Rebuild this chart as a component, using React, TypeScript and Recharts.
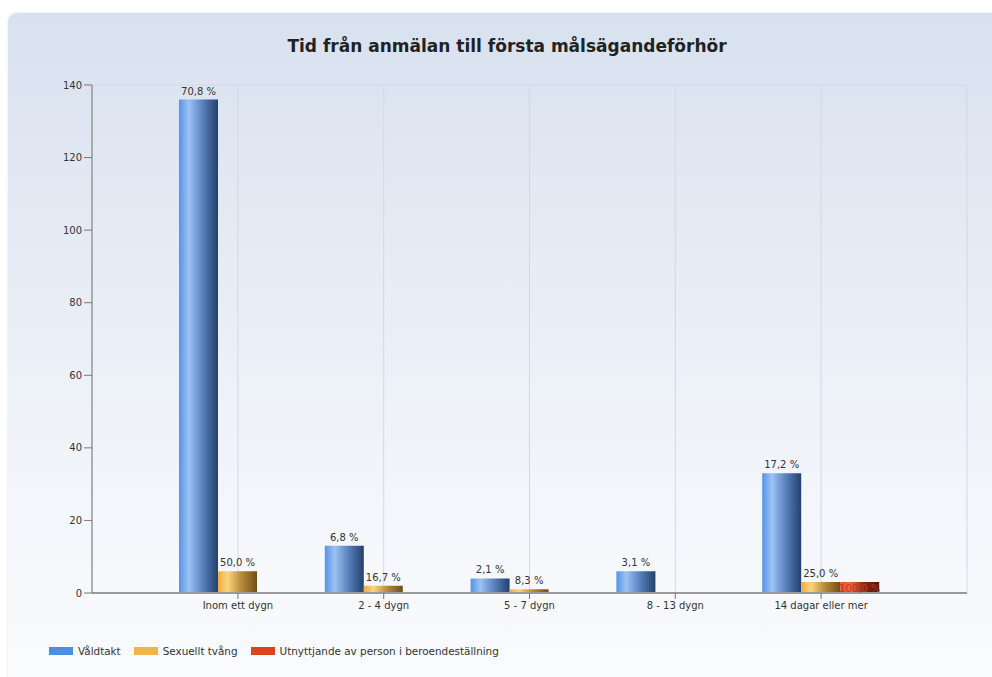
import { BarChart, Bar, XAxis, YAxis, CartesianGrid, LabelList } from 'recharts';

// Tid från anmälan till första målsägandeförhör – antal ärenden per brottstyp.
const categories = ['Inom ett dygn', '2 - 4 dygn', '5 - 7 dygn', '8 - 13 dygn', '14 dagar eller mer'];
const valdtakt = [136, 13, 4, 6, 33];
const sexuelltTvang = [6, 2, 1, 0, 3];
const utnyttjande = [0, 0, 0, 0, 3];
const yTicks = [0, 20, 40, 60, 80, 100, 120, 140];

const seriesKeys = ['valdtakt', 'sexuelltTvang', 'utnyttjande'];
const seriesNames = ['Våldtakt', 'Sexuellt tvång', 'Utnyttjande av person i beroendeställning'];
const seriesValues = [valdtakt, sexuelltTvang, utnyttjande];

// utseende per serie (flat färg för legenden, gradient för staplarna)
const look: Record<string, { flat: string; stops: string[]; label: string }> = {
  valdtakt: { flat: '#4a8ee6', stops: ['#5593e6', '#9cc3f3', '#5a82bd', '#23406c'], label: '#333' },
  sexuelltTvang: { flat: '#f2b447', stops: ['#eeac3e', '#fbd47c', '#b98a38', '#6e4f1a'], label: '#333' },
  utnyttjande: { flat: '#d9461c', stops: ['#e0522a', '#ee6a3c', '#8a2a14', '#4a140a'], label: '#c8361a' },
};

const data = categories.map((c, i) => {
  const row: Record<string, string | number> = { category: c };
  seriesKeys.forEach((k, s) => { row[k] = seriesValues[s][i]; });
  return row;
});

const pctText = (values: number[], v: number) => {
  const total = values.reduce((a, b) => a + b, 0);
  return ((v / total) * 100).toFixed(1).replace('.', ',') + ' %';
};

const FONT = '"DejaVu Sans", Verdana, sans-serif';

// procentetikett ovanför (eller i) stapeln, utan radbrytning
const makeLabel = (s: number, inside: boolean) => (p: any) => {
  const v = Number(p.value);
  if (!(v > 0)) return null;
  const x = Number(p.x) + Number(p.width) / 2;
  const y = inside ? Number(p.y) + Number(p.height) / 2 + 4 : Number(p.y) - 5;
  return (
    <text x={x} y={y} textAnchor="middle" fontSize={10} fontFamily={FONT} fill={look[seriesKeys[s]].label}>
      {pctText(seriesValues[s], v)}
    </text>
  );
};

export default function App() {
  return (
    <div style={{ position: 'absolute', left: 0, top: 0, width: 992, height: 677, overflow: 'hidden', background: '#fff', fontFamily: FONT }}>
      {/* panel med gradient */}
      <div
        style={{
          position: 'absolute', left: 8, top: 13, width: 1010, height: 700, borderRadius: 9,
          background: 'linear-gradient(to bottom, #d8e1ef 0%, #e6ecf5 35%, #f3f6fb 70%, #fbfcfe 100%)',
          boxShadow: '0 0 2px rgba(120,140,170,0.35)',
        }}
      />
      <div
        style={{
          position: 'absolute', left: 22, right: 0, top: 35, lineHeight: '22px', textAlign: 'center',
          fontSize: 17, fontWeight: 'bold', color: '#222',
        }}
      >
        Tid från anmälan till första målsägandeförhör
      </div>

      <div style={{ position: 'absolute', left: 0, top: 0 }}>
        <BarChart
          width={992}
          height={677}
          data={data}
          margin={{ top: 85, right: 25, bottom: 54, left: 32 }}
          barGap={0}
          barSize={39}
          style={{ fontFamily: FONT }}
        >
          <defs>
            {seriesKeys.map((k) => (
              <linearGradient key={k} id={`g-${k}`} x1="0" y1="0" x2="1" y2="0">
                <stop offset="0%" stopColor={look[k].stops[0]} />
                <stop offset="25%" stopColor={look[k].stops[1]} />
                <stop offset="60%" stopColor={look[k].stops[2]} />
                <stop offset="100%" stopColor={look[k].stops[3]} />
              </linearGradient>
            ))}
          </defs>
          <CartesianGrid stroke="#d3d9e2" />
          <XAxis
            dataKey="category"
            padding={{ left: 73, right: 73 }}
            height={30}
            tick={{ fontSize: 10, fill: '#333' }}
            tickSize={6}
            tickMargin={3}
            axisLine={{ stroke: '#9a9a9a', strokeWidth: 2 }}
            tickLine={{ stroke: '#777' }}
          />
          <YAxis
            yAxisId="left"
            domain={[0, 140]}
            ticks={yTicks}
            width={60}
            tick={{ fontSize: 10, fill: '#333' }}
            tickSize={8}
            tickMargin={2}
            axisLine={{ stroke: '#777' }}
            tickLine={{ stroke: '#777' }}
          />
          {/* ramlinje till höger om ritytan */}
          <YAxis
            yAxisId="right"
            orientation="right"
            domain={[0, 140]}
            width={0}
            tick={false}
            tickLine={false}
            axisLine={{ stroke: '#d3d9e2' }}
          />
          {seriesKeys.map((k, s) => (
            <Bar key={k} yAxisId="left" dataKey={k} name={seriesNames[s]} fill={`url(#g-${k})`} isAnimationActive={false}>
              <LabelList dataKey={k} content={makeLabel(s, k === 'utnyttjande')} />
            </Bar>
          ))}
        </BarChart>
      </div>

      {/* legend */}
      <div style={{ position: 'absolute', left: 49, top: 645, display: 'flex', alignItems: 'center', fontSize: 10.4, color: '#333' }}>
        {seriesKeys.map((k, s) => (
          <div key={k} style={{ display: 'flex', alignItems: 'center', marginRight: 13 }}>
            <span style={{ display: 'inline-block', width: 24, height: 8, background: look[k].flat, marginRight: 5 }} />
            <span>{seriesNames[s]}</span>
          </div>
        ))}
      </div>
    </div>
  );
}
